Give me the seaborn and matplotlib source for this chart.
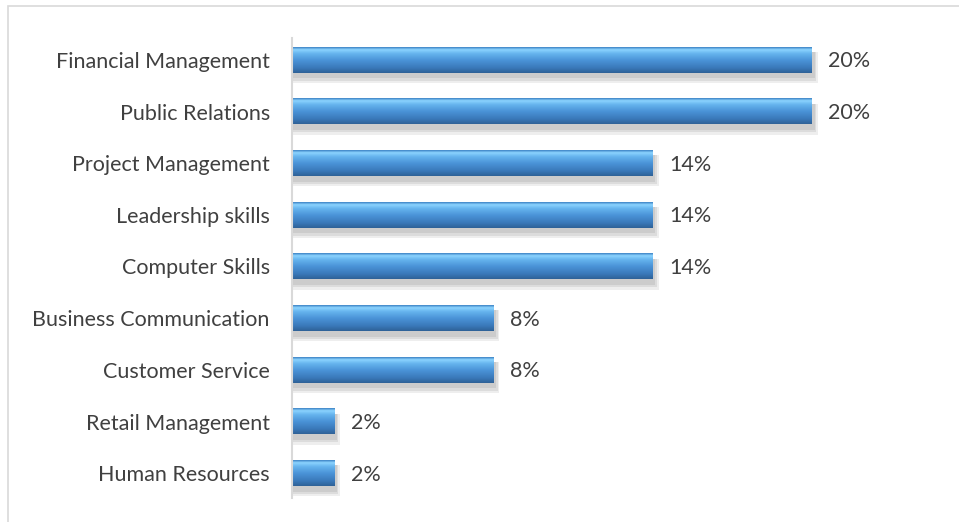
import numpy as np
import pandas as pd
import matplotlib
matplotlib.use("Agg")
import matplotlib.pyplot as plt
import seaborn as sns
from matplotlib.colors import LinearSegmentedColormap
from matplotlib.patches import Rectangle

categories = [
    "Financial Management",
    "Public Relations",
    "Project Management",
    "Leadership skills",
    "Computer Skills",
    "Business Communication",
    "Customer Service",
    "Retail Management",
    "Human Resources",
]
shares = [20, 20, 14, 14, 14, 8, 8, 2, 2]
value_labels = ["20%", "20%", "14%", "14%", "14%", "8%", "8%", "2%", "2%"]

df = pd.DataFrame({"skill": categories, "share": shares})

sns.set_theme(style="white")
plt.rcParams["font.family"] = ["Lato", "DejaVu Sans"]

W, H = 959, 522
fig = plt.figure(figsize=(W / 100, H / 100), dpi=100)
ax = fig.add_axes([292 / W, 1 - 499 / H, (950 - 292) / W, (499 - 34) / H])

sns.barplot(data=df, x="share", y="skill", orient="h", ax=ax,
            color="#4a90d4", width=0.5, saturation=1, errorbar=None,
            linewidth=0)

ax.set_xlim(0.41, 25.2)
ax.set_ylim(len(categories) - 0.5, -0.5)

# glossy cylinder-style fill and a soft drop shadow for every bar
glossy = LinearSegmentedColormap.from_list(
    "glossy",
    [(0.0, "#3a7fc2"), (0.1, "#8cd4ff"), (0.25, "#66b4ee"),
     (0.5, "#4b94d8"), (0.8, "#3a79ba"), (1.0, "#2e6196")])
grad = np.linspace(0, 1, 256).reshape(-1, 1)
for p in list(ax.patches):
    x0, y0, w, h = p.get_x(), p.get_y(), p.get_width(), p.get_height()
    for k, a in enumerate([0.25, 0.35, 0.5]):
        grow = 0.06 * (2 - k)
        ax.add_patch(Rectangle((x0, y0 + h * 0.2), w + 0.1 + grow,
                               h + h * 0.02 + h * grow * 1.5,
                               facecolor="#bdbdbd", edgecolor="none",
                               alpha=a, zorder=1.5))
    p.set_zorder(2)
    p.set_edgecolor("none")
    img = ax.imshow(grad, cmap=glossy, aspect="auto",
                    extent=(x0, x0 + w, y0 + h, y0), zorder=2.1,
                    interpolation="bilinear")
    img.set_clip_path(p)
    img.set_clip_box(ax.bbox)

for i, (v, lab) in enumerate(zip(shares, value_labels)):
    ax.text(v + 0.62, i + 0.03, lab, va="center", ha="left", fontsize=15.5,
            color="#404040")

ax.set_xlabel("")
ax.set_ylabel("")
ax.set_xticks([])
ax.tick_params(axis="y", length=0, pad=16, labelsize=15.5, labelcolor="#404040")
for s in ["top", "right", "bottom"]:
    ax.spines[s].set_visible(False)
ax.spines["left"].set_color("#d9d9d9")
ax.spines["left"].set_linewidth(1.5)
ax.spines["left"].set_bounds(len(categories) - 0.5 - 0.02, -0.5 + 0.08)

# outer chart frame, running past the right and bottom edges
fig.patches.append(Rectangle((8 / W, -0.05), 1.1, 1 - 6 / H + 0.05,
                             transform=fig.transFigure, fill=False,
                             edgecolor="#d9d9d9", linewidth=1.2))

fig.savefig("out.png", dpi=100)
